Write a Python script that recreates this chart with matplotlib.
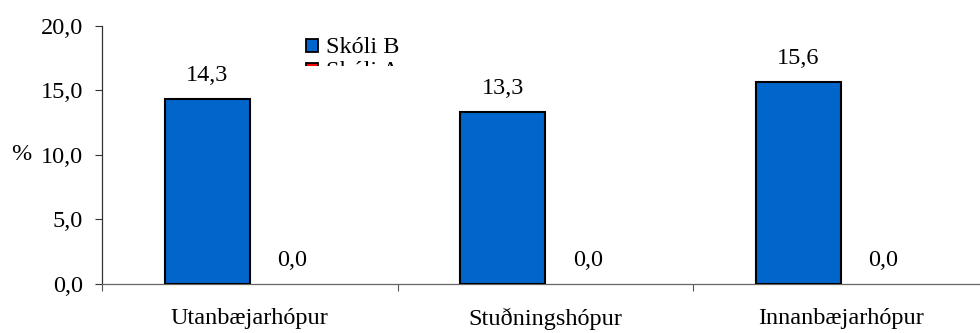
import matplotlib
matplotlib.use("Agg")
import matplotlib.pyplot as plt
from matplotlib.patches import Rectangle
from matplotlib.transforms import Bbox
import numpy as np

categories = ["Utanbæjarhópur", "Stuðningshópur", "Innanbæjarhópur"]
series_names = ["Skóli B", "Skóli A"]
skoli_b = [14.3, 13.3, 15.6]
skoli_a = [0.0, 0.0, 0.0]
colors = ["#0066CC", "#FF0000"]
yticks = [0, 5, 10, 15, 20]

plt.rcParams["font.family"] = ["Liberation Serif", "DejaVu Serif"]
FS = 17.5
W, H, DPI = 980, 333, 100
fig = plt.figure(figsize=(W / DPI, H / DPI), dpi=DPI)
# axes in pixel coords
x0, x1 = 102, 988.5
y_top, y_bot = 25.5, 284
ax = fig.add_axes([x0 / W, (H - y_bot) / H, (x1 - x0) / W, (y_bot - y_top) / H])

x = np.arange(len(categories))
bw = 0.2876
series = [skoli_b, skoli_a]
for k, (vals, col) in enumerate(zip(series, colors)):
    pos = x + (k - 0.5) * bw
    lws = [1.5 if v > 0 else 0 for v in vals]
    ax.bar(pos, vals, width=bw, color=col, edgecolor="black", linewidth=lws, zorder=3)
    for p, v in zip(pos, vals):
        ax.annotate(f"{v:.1f}".replace(".", ","), (p, v), xytext=(0, 9.4),
                    textcoords="offset points", ha="center", va="bottom",
                    fontsize=FS, color="black")

ax.set_xlim(-0.5, 2.5)
ax.set_ylim(0, 20)
ax.set_yticks(yticks)
ax.set_yticklabels([f"{t:.1f}".replace(".", ",") for t in yticks], fontsize=FS)
ax.tick_params(axis="y", direction="out", length=5, width=0.8, pad=8.6, color="#333333")

ax.set_xticks([-0.5, 0.5, 1.5, 2.5])
ax.set_xticklabels([])
ax.set_xticks(x, minor=True)
ax.set_xticklabels(categories, minor=True, fontsize=FS)
ax.tick_params(axis="x", which="major", direction="out", length=5, width=0.8, color="#555555")
ax.tick_params(axis="x", which="minor", length=0, pad=17.5)

for s in ["top", "right"]:
    ax.spines[s].set_visible(False)
ax.spines["left"].set_color("#333333")
ax.spines["bottom"].set_color("#666666")
ax.spines["left"].set_linewidth(0.9)
ax.spines["bottom"].set_linewidth(0.9)

ax.set_ylabel("%", rotation=0, fontsize=FS, ha="center", va="center")
ax.yaxis.set_label_coords(-(x0 - 21) / (x1 - x0), 0.5)

# clipped legend (as in original, only the first entry fully visible)
clip = Bbox([[290, H - 66], [460, H - 32]])
for i, (name, col) in enumerate(zip(series_names, colors)):
    top = 39 + 24 * i
    r = Rectangle((306 / W, (H - top - 13) / H), 12 / W, 13 / H, transform=fig.transFigure,
                  facecolor=col, edgecolor="black", linewidth=1.3)
    r.set_clip_box(clip)
    r.set_clip_on(True)
    fig.add_artist(r)
    t = fig.text(326 / W, (H - (top + 14)) / H, name, fontsize=FS, va="baseline", ha="left")
    t.set_clip_box(clip)
    t.set_clip_on(True)

fig.savefig("out.png", dpi=DPI)
